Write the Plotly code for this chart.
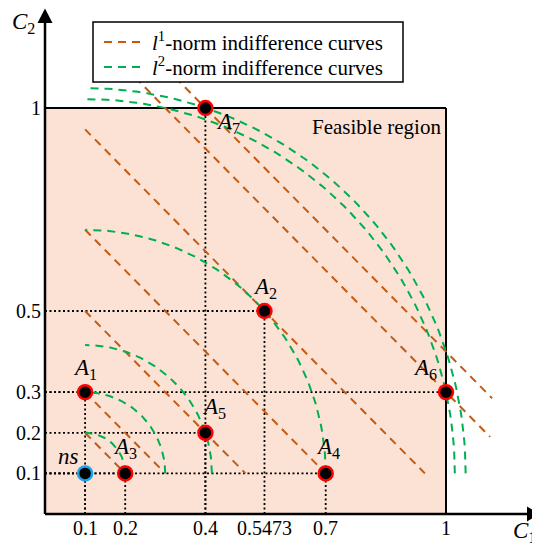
import numpy as np
import plotly.graph_objects as go

# ---------------- data ----------------
point_names = ["ns", "A1", "A2", "A3", "A4", "A5", "A6", "A7"]
point_labels = ["<i>ns</i>", "<i>A</i><sub>1</sub>", "<i>A</i><sub>2</sub>", "<i>A</i><sub>3</sub>",
                "<i>A</i><sub>4</sub>", "<i>A</i><sub>5</sub>", "<i>A</i><sub>6</sub>", "<i>A</i><sub>7</sub>"]
point_c1 = [0.1, 0.1, 0.5473, 0.2, 0.7, 0.4, 1.0, 0.4]
point_c2 = [0.1, 0.3, 0.5, 0.1, 0.1, 0.2, 0.3, 1.0]

# l1-norm indifference lines: C1 + C2 = level
l1_levels = [0.3, 0.4, 0.6, 0.8, 1.0473, 1.3, 1.4]
l1_x_start = [0.1, 0.1, 0.1, 0.1, 0.1, 0.2, 0.3]
l1_x_end = [0.2, 0.3, 0.5, 0.7, 0.9473, 1.11, 1.115]

# l2-norm indifference curves: quarter circles around ns
l2_center = [0.1, 0.1]
l2_radii = [0.1, 0.2, 0.3162, 0.6, 0.922, 0.949]

x_ticks = [0.1, 0.2, 0.4, 0.5473, 0.7, 1]
x_tick_text = ["0.1", "0.2", "0.4", "0.5473", "0.7", "1"]
y_ticks = [0.1, 0.2, 0.3, 0.5, 1]
y_tick_text = ["0.1", "0.2", "0.3", "0.5", "1"]

legend_text = ["<i>l</i><sup>1</sup>-norm indifference curves",
               "<i>l</i><sup>2</sup>-norm indifference curves"]

# ---------------- style ----------------
ORANGE = "#C55A11"
GREEN = "#00B050"
RED = "#FF0000"
BLUE = "#1CA3EC"
FILL = "#FBE2D5"
SERIF = "Liberation Serif"
DASH = "8px,6px"

# figure is offset by the page's 8px body margin
W, H = 532, 544
ML, MB = 17, 18

# page pixel -> data / paper helpers (layout only)
X0_PX, X_PER = 45.0, 401.0
Y0_PX, Y_PER = 514.0, 406.0
def px(p):
    return (p - X0_PX) / X_PER
def py(p):
    return (Y0_PX - p) / Y_PER
def ppx(p):
    return (p - 8 - ML) / (W - ML)
def ppy(p):
    return (8 + H - MB - p) / (H - MB)

# label offsets (pixels) per point
label_dx = [-17, 0, 1, 0, 2, 9, -21, 23]
label_dy = [17, 23, 23, 25, 25, 25, 23, -15]

fig = go.Figure()

# dotted guides from each point to the axes
for xv, yv in zip(point_c1, point_c2):
    fig.add_trace(go.Scatter(x=[xv, xv], y=[0, yv], mode="lines", showlegend=False,
                             line=dict(color="black", width=1.8, dash="2px,2.5px"), hoverinfo="skip"))
    fig.add_trace(go.Scatter(x=[0, xv], y=[yv, yv], mode="lines", showlegend=False,
                             line=dict(color="black", width=1.8, dash="2px,2.5px"), hoverinfo="skip"))

# l1 lines
for i, (lev, xs, xe) in enumerate(zip(l1_levels, l1_x_start, l1_x_end)):
    fig.add_trace(go.Scatter(
        x=[xs, xe], y=[lev - xs, lev - xe], mode="lines",
        line=dict(color=ORANGE, width=2, dash=DASH),
        name="l1-norm indifference curves", showlegend=False, hoverinfo="skip"))

# l2 arcs
theta = np.linspace(0, np.pi / 2, 80)
for i, r in enumerate(l2_radii):
    fig.add_trace(go.Scatter(
        x=l2_center[0] + r * np.cos(theta), y=l2_center[1] + r * np.sin(theta), mode="lines",
        line=dict(color=GREEN, width=2, dash=DASH),
        name="l2-norm indifference curves", showlegend=False, hoverinfo="skip"))

# points
fig.add_trace(go.Scatter(
    x=point_c1, y=point_c2, mode="markers", showlegend=False,
    marker=dict(size=14, color="black",
                line=dict(width=2.5, color=[BLUE if n == "ns" else RED for n in point_names])),
    hovertext=point_names, hoverinfo="text"))

# feasible region, axes, legend box
shapes = [
    dict(type="rect", x0=0, y0=0, x1=1, y1=1, xref="x", yref="y",
         fillcolor=FILL, line=dict(width=0), layer="below"),
    dict(type="line", x0=0, y0=1, x1=1, y1=1, xref="x", yref="y",
         line=dict(color="black", width=2), layer="below"),
    dict(type="line", x0=1, y0=0, x1=1, y1=1, xref="x", yref="y",
         line=dict(color="black", width=2), layer="below"),
    dict(type="line", x0=0, y0=0, x1=px(530), y1=0, xref="x", yref="y",
         line=dict(color="black", width=2.5), layer="below"),
    dict(type="line", x0=0, y0=0, x1=0, y1=py(20), xref="x", yref="y",
         line=dict(color="black", width=2.5), layer="below"),
    dict(type="path", xref="x", yref="y", fillcolor="black", line=dict(width=0),
         path=f"M {px(527)} {py(506.5)} L {px(540)} 0 L {px(527)} {py(521.5)} Z"),
    dict(type="path", xref="x", yref="y", fillcolor="black", line=dict(width=0),
         path=f"M {px(37.5)} {py(23)} L 0 {py(8.5)} L {px(52.5)} {py(23)} Z"),
    # legend box
    dict(type="rect", xref="x", yref="y", x0=px(93), x1=px(403), y0=py(82), y1=py(22),
         fillcolor="white", line=dict(color="black", width=1.5), layer="above"),
    dict(type="line", xref="x", yref="y", x0=px(104), x1=px(142), y0=py(42), y1=py(42),
         line=dict(color=ORANGE, width=2, dash=DASH), layer="above"),
    dict(type="line", xref="x", yref="y", x0=px(104), x1=px(142), y0=py(67), y1=py(67),
         line=dict(color=GREEN, width=2, dash=DASH), layer="above"),
]

annotations = []
for xv, yv, lab, dx, dy in zip(point_c1, point_c2, point_labels, label_dx, label_dy):
    annotations.append(dict(x=xv, y=yv, text=lab, showarrow=False, xshift=dx, yshift=dy,
                            font=dict(family=SERIF, size=23, color="black")))
for xv, t in zip(x_ticks, x_tick_text):
    annotations.append(dict(x=xv, y=0, text=t, showarrow=False, yshift=-14,
                            font=dict(family=SERIF, size=20, color="black")))
for yv, t in zip(y_ticks, y_tick_text):
    annotations.append(dict(x=0, y=yv, text=t, showarrow=False, xanchor="right", xshift=-2,
                            font=dict(family=SERIF, size=20, color="black")))
for t, yp in zip(legend_text, [41, 66]):
    annotations.append(dict(x=px(150), y=py(yp), text=t, showarrow=False, xanchor="left",
                            yanchor="middle", font=dict(family=SERIF, size=21, color="black")))
annotations += [
    dict(x=1, y=py(127), text="Feasible region", showarrow=False, xanchor="right", yanchor="middle",
         xshift=-3, font=dict(family=SERIF, size=21, color="black")),
    dict(xref="paper", yref="paper", x=ppx(23), y=ppy(23), text="<i>C</i><sub>2</sub>",
         showarrow=False, xanchor="center", yanchor="middle",
         font=dict(family=SERIF, size=23, color="black")),
    dict(xref="paper", yref="paper", x=ppx(524), y=ppy(532), text="<i>C</i><sub>1</sub>",
         showarrow=False, xanchor="center", yanchor="middle",
         font=dict(family=SERIF, size=23, color="black")),
]

fig.update_layout(
    width=W, height=H,
    margin=dict(l=ML, r=0, t=0, b=MB, pad=0),
    paper_bgcolor="white", plot_bgcolor="white",
    xaxis=dict(range=[px(8 + ML), px(540)], visible=False, fixedrange=True),
    yaxis=dict(range=[py(8 + H - MB), py(8)], visible=False, fixedrange=True),
    shapes=shapes, annotations=annotations,
    showlegend=False,
)

fig.write_html("out.html")
